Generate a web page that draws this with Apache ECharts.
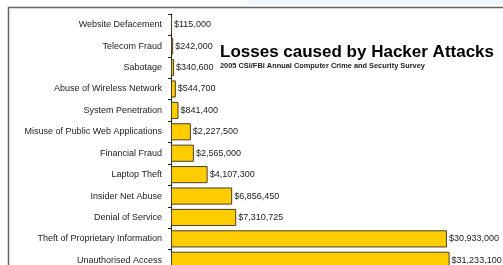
<!DOCTYPE html>
<html><head><meta charset="utf-8">
<script src="https://cdn.jsdelivr.net/npm/echarts@6/dist/echarts.min.js"></script>
<style>html,body{margin:0;padding:0;background:#fff;overflow:hidden}#c{width:640px;height:300px}</style>
</head><body><div id="c"></div>
<script>
var categories = ["Website Defacement","Telecom Fraud","Sabotage","Abuse of Wireless Network","System Penetration","Misuse of Public Web Applications","Financial Fraud","Laptop Theft","Insider Net Abuse","Denial of Service","Theft of Proprietary Information","Unauthorised Access"];
var losses = [115000,242000,340600,544700,841400,2227500,2565000,4107300,6856450,7310725,30933000,31233100];
var titleText = "Losses caused by Hacker Attacks";
var subtitleText = "2005 CSI/FBI Annual Computer Crime and Security Survey";

function money(v){ return "$" + v.toString().replace(/\B(?=(\d{3})+(?!\d))/g, ","); }

var chart = echarts.init(document.getElementById('c'), null, {renderer:'canvas'});
chart.setOption({
  animation:false,
  backgroundColor:'#fff',
  title:{
    text:titleText, subtext:subtitleText, left:215, top:39, itemGap:1,
    textStyle:{fontFamily:'Liberation Sans',fontWeight:'bold',fontSize:17,color:'#000'},
    subtextStyle:{fontFamily:'Liberation Sans',fontWeight:'bold',fontSize:7.4,color:'#222'}
  },
  graphic:[
    {type:'rect',shape:{x:247,y:0,width:400,height:4},style:{fill:'#eef5fc'},silent:true},
    {type:'polyline',shape:{points:[[8.5,300],[8.5,7.5],[640,7.5]]},style:{stroke:'#666',lineWidth:1.5,fill:null},silent:true}
  ],
  grid:{left:171,top:14,height:257,width:446},
  xAxis:{type:'value',min:0,max:50000000,show:false},
  yAxis:{type:'category',data:categories,inverse:true,
    axisLine:{lineStyle:{color:'#222',width:1}},
    axisTick:{show:true,length:3,lineStyle:{color:'#222'}},
    axisLabel:{fontFamily:'Liberation Sans',fontSize:9,color:'#222',margin:9}
  },
  series:[{type:'bar',data:losses,barCategoryGap:'20%',
    itemStyle:{color:'#FFCC00',borderColor:'#4a3f2a',borderWidth:1},
    label:{show:true,position:'right',distance:2,formatter:function(p){return money(p.value);},
      fontFamily:'Liberation Sans',fontSize:9,color:'#222'}
  }]
});
</script></body></html>
